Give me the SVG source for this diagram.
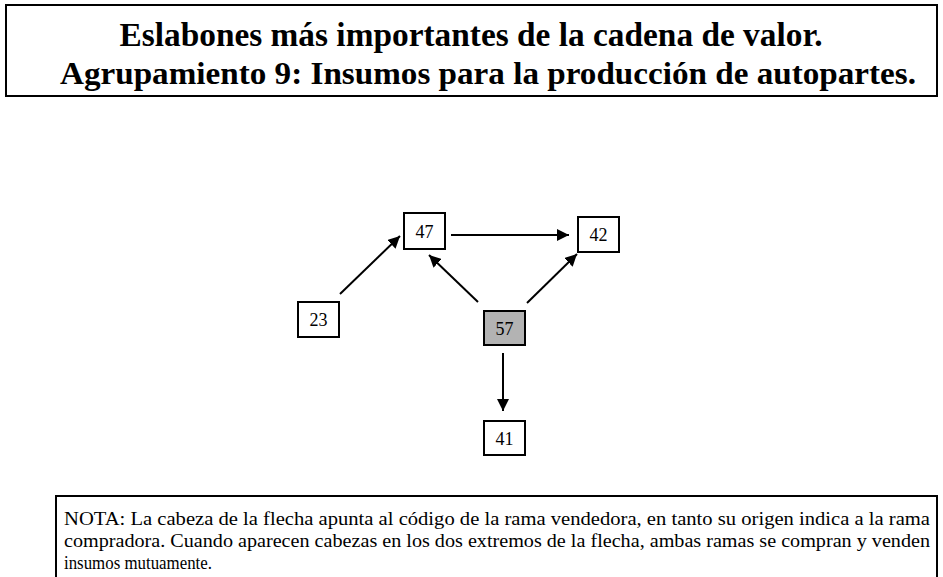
<svg xmlns="http://www.w3.org/2000/svg" width="943" height="577" viewBox="0 0 943 577">
<defs>
<style>
.box{fill:#fff;stroke:#000;stroke-width:2}
.frame{fill:#fff;stroke:#000;stroke-width:2}
.lbl{font-family:"Liberation Serif","Times New Roman",serif;font-size:18px;fill:#000;text-anchor:middle}
.title{font-family:"Liberation Serif","Times New Roman",serif;font-size:33px;font-weight:bold;fill:#000;text-anchor:middle}
.note{font-family:"Liberation Serif","Times New Roman",serif;font-size:18px;fill:#000}
.edge{stroke:#000;stroke-width:2;fill:none;marker-end:url(#ah)}
</style>
<marker id="ah" viewBox="0 0 10 10" refX="10" refY="5" markerWidth="6" markerHeight="6" markerUnits="strokeWidth" orient="auto">
<path d="M0,0 L10,5 L0,10 z" fill="#000"/>
</marker>
</defs>
<rect width="943" height="577" fill="#fff"/>
<g id="title">
<rect class="frame" x="6" y="5" width="931" height="91"/>
<text class="title" x="471" y="46" textLength="703" lengthAdjust="spacingAndGlyphs">Eslabones más importantes de la cadena de valor.</text>
<text class="title" x="488" y="84" textLength="856" lengthAdjust="spacingAndGlyphs" style="font-size:32px">Agrupamiento 9: Insumos para la producción de autopartes.</text>
</g>
<g id="connectors">
<line class="edge" x1="340" y1="294" x2="400" y2="236"/>
<line class="edge" x1="451" y1="235" x2="569" y2="235"/>
<line class="edge" x1="478" y1="302" x2="429" y2="255"/>
<line class="edge" x1="527" y1="303" x2="577" y2="254"/>
<line class="edge" x1="503" y1="353" x2="503" y2="411"/>
</g>
<g id="n47"><rect class="box" x="404" y="213" width="41" height="36"/><text class="lbl" x="424.5" y="237.5">47</text></g>
<g id="n42"><rect class="box" x="578" y="217" width="41" height="35"/><text class="lbl" x="598.5" y="241">42</text></g>
<g id="n23"><rect class="box" x="298" y="302" width="41" height="35"/><text class="lbl" x="318.5" y="326">23</text></g>
<g id="n57"><rect class="box" x="484" y="311" width="41" height="34" style="fill:#b3b3b3"/><text class="lbl" x="504.5" y="334.5">57</text></g>
<g id="n41"><rect class="box" x="484" y="421" width="41" height="34"/><text class="lbl" x="504.5" y="444.5">41</text></g>
<g id="note">
<rect class="frame" x="56" y="496" width="881" height="90"/>
<text class="note" x="64" y="525" textLength="866" lengthAdjust="spacingAndGlyphs">NOTA: La cabeza de la flecha apunta al código de la rama vendedora, en tanto su origen indica a la rama</text>
<text class="note" x="64" y="547" textLength="866" lengthAdjust="spacingAndGlyphs">compradora. Cuando aparecen cabezas en los dos extremos de la flecha, ambas ramas se compran y venden</text>
<text class="note" x="64" y="569" textLength="148" lengthAdjust="spacingAndGlyphs">insumos mutuamente.</text>
</g>
</svg>
